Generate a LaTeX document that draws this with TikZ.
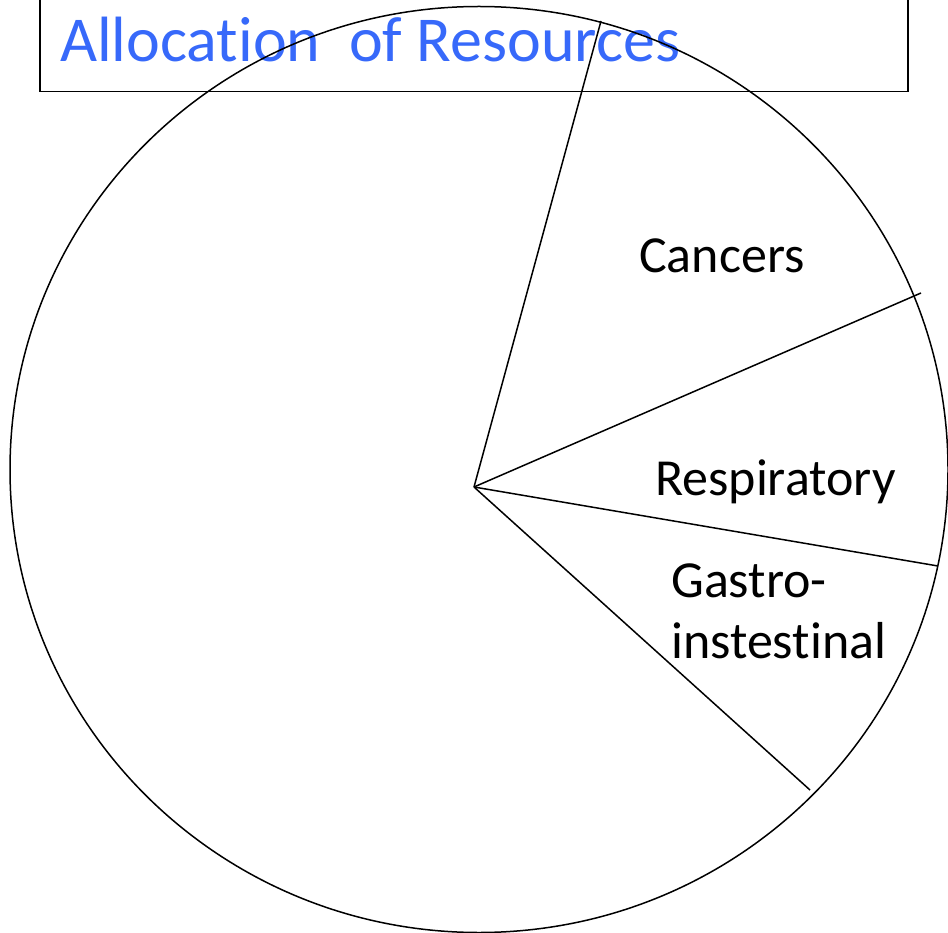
\documentclass[tikz,border=0pt]{standalone}
\usepackage{fontspec}
\setmainfont[Ligatures={NoCommon}]{Carlito}
\definecolor{titleblue}{RGB}{55,105,250}
\begin{document}
\begin{tikzpicture}[x=1pt,y=-1pt,
  pieline/.style={draw=black,line width=1.5pt},
  framebox/.style={draw=black,line width=1.7pt},
  slicelabel/.style={inner sep=0pt,anchor=base west,font=\fontsize{52}{61}\selectfont,align=left},
  titletext/.style={inner sep=0pt,anchor=base west,text=titleblue,font=\fontsize{64}{70}\selectfont}]
\useasboundingbox (0,0) rectangle (948,933);
\clip (0,0) rectangle (948,933);
% title frame (its top runs off the page)
\draw[framebox] (40,-20) rectangle (908,91.5);
\node[titletext] (title) at (60,62) {Allocation\ \ of Resources};
% the pie
\draw[pieline] (479,469.5) ellipse [x radius=469pt, y radius=463pt];
\coordinate (apex) at (474,487);
\coordinate (e1) at (601,21);
\coordinate (e2) at (921,293);
\coordinate (e3) at (938,566);
\coordinate (e4) at (810,790);
\draw[pieline] (apex) -- (e1);
\draw[pieline] (apex) -- (e2);
\draw[pieline] (apex) -- (e3);
\draw[pieline] (apex) -- (e4);
% slice labels (a two-line node sits on the baseline of its last line)
\node[slicelabel] (cancers) at (639,273) {Cancers};
\node[slicelabel] (resp) at (655,495) {Respiratory};
\node[slicelabel] (gastro) at (671,658) {Gastro-\\instestinal};
\end{tikzpicture}
\end{document}
